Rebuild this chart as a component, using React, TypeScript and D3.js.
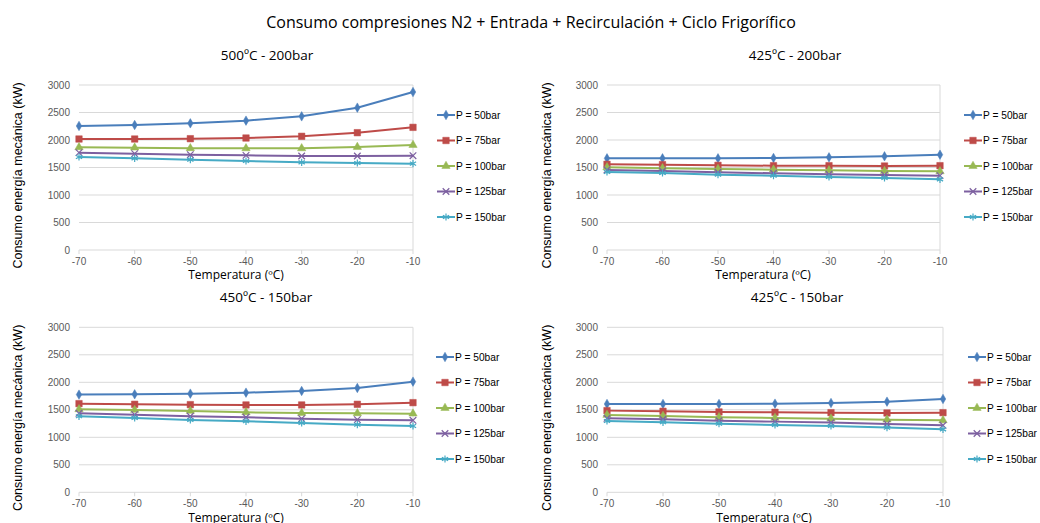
import React from "react";
import * as d3 from "d3";

const temps = [-70, -60, -50, -40, -30, -20, -10];
const seriesNames = ["P = 50bar", "P = 75bar", "P = 100bar", "P = 125bar", "P = 150bar"];
const yTicks = [0, 500, 1000, 1500, 2000, 2500, 3000];
const mainTitle = "Consumo compresiones N2 + Entrada + Recirculación + Ciclo Frigorífico";
const panelTitles = ["500ºC - 200bar", "425ºC - 200bar", "450ºC - 150bar", "425ºC - 150bar"];
const yTitle = "Consumo energía mecánica (kW)";
const xTitle = "Temperatura (ºC)";

// Panel 1: 500ºC - 200bar
const p1_50 = [2255, 2273, 2303, 2352, 2430, 2588, 2872];
const p1_75 = [2018, 2018, 2024, 2036, 2067, 2133, 2230];
const p1_100 = [1867, 1861, 1850, 1848, 1848, 1873, 1909];
const p1_125 = [1770, 1752, 1733, 1721, 1709, 1709, 1715];
const p1_150 = [1691, 1667, 1642, 1618, 1594, 1582, 1570];
// Panel 2: 425ºC - 200bar
const p2_50 = [1667, 1667, 1667, 1673, 1685, 1703, 1733];
const p2_75 = [1558, 1552, 1539, 1533, 1533, 1527, 1533];
const p2_100 = [1503, 1485, 1473, 1461, 1448, 1436, 1430];
const p2_125 = [1455, 1436, 1412, 1394, 1376, 1364, 1352];
const p2_150 = [1418, 1400, 1370, 1352, 1327, 1309, 1285];
// Panel 3: 450ºC - 150bar
const p3_50 = [1776, 1782, 1794, 1812, 1842, 1897, 2012];
const p3_75 = [1612, 1600, 1594, 1588, 1588, 1600, 1630];
const p3_100 = [1509, 1497, 1479, 1455, 1442, 1436, 1430];
const p3_125 = [1436, 1412, 1382, 1364, 1339, 1321, 1309];
const p3_150 = [1382, 1352, 1315, 1291, 1261, 1230, 1206];
// Panel 4: 425ºC - 150bar
const p4_50 = [1606, 1606, 1606, 1612, 1624, 1648, 1697];
const p4_75 = [1485, 1473, 1461, 1455, 1448, 1442, 1448];
const p4_100 = [1406, 1388, 1364, 1352, 1339, 1321, 1309];
const p4_125 = [1345, 1327, 1303, 1285, 1267, 1242, 1218];
const p4_150 = [1297, 1273, 1248, 1224, 1206, 1176, 1145];

const panelData = [
  [p1_50, p1_75, p1_100, p1_125, p1_150],
  [p2_50, p2_75, p2_100, p2_125, p2_150],
  [p3_50, p3_75, p3_100, p3_125, p3_150],
  [p4_50, p4_75, p4_100, p4_125, p4_150],
];

const colors = ["#4A7EBB", "#BE4B48", "#98B954", "#7D60A0", "#46AAC5"];
const symbols = [d3.symbolDiamond, d3.symbolSquare, d3.symbolTriangle, d3.symbolTimes, d3.symbolAsterisk];
const symbolSizes = [26, 42, 30, 30, 36];
const symbolFilled = [true, true, true, false, false];

const layouts = [
  { x0: 79, x1: 413, yTop: 85, yBot: 250, titleX: 267, titleY: 60, yTitleX: 22, xTitleX: 236, xTitleY: 279, legX: 437, legY: 115 },
  { x0: 607, x1: 940, yTop: 85, yBot: 250, titleX: 795, titleY: 60, yTitleX: 551, xTitleX: 763, xTitleY: 279, legX: 964, legY: 115 },
  { x0: 79, x1: 413, yTop: 327.3, yBot: 492.3, titleX: 266, titleY: 302, yTitleX: 22, xTitleX: 236, xTitleY: 522, legX: 436, legY: 357 },
  { x0: 607, x1: 943, yTop: 327.3, yBot: 492.3, titleX: 797, titleY: 302, yTitleX: 551, xTitleX: 764, xTitleY: 522, legX: 968, legY: 357 },
];

const tickFont = "'Liberation Sans', Arial, sans-serif";
const titleFont = "'Open Sans', 'Noto Sans', sans-serif";

function Marker({ i, x, y }: { i: number; x: number; y: number }) {
  const path = d3.symbol().type(symbols[i]).size(symbolSizes[i])() || "";
  return (
    <path
      d={path}
      transform={`translate(${x},${y})`}
      fill={symbolFilled[i] ? colors[i] : "none"}
      stroke={colors[i]}
      strokeWidth={symbolFilled[i] ? 0.5 : 1.2}
    />
  );
}

function Panel({ idx }: { idx: number }) {
  const L = layouts[idx];
  const x = d3.scaleLinear().domain([-70, -10]).range([L.x0, L.x1]);
  const y = d3.scaleLinear().domain([0, 3000]).range([L.yBot, L.yTop]);
  const line = d3
    .line<number>()
    .x((_, i) => x(temps[i]))
    .y((d) => y(d));
  const data = panelData[idx];
  const yMid = (L.yTop + L.yBot) / 2;
  return (
    <g>
      <text x={L.titleX} y={L.titleY} textAnchor="middle" fontFamily={titleFont} fontSize={13.5} fill="#000">
        {panelTitles[idx]}
      </text>
      {yTicks.map((t) => (
        <g key={t}>
          {t > 0 && <line x1={L.x0} x2={L.x1} y1={y(t)} y2={y(t)} stroke="#D9D9D9" strokeWidth={1} />}
          <text x={L.x0 - 9} y={y(t)} dy="0.35em" textAnchor="end" fontFamily={tickFont} fontSize={10} fill="#595959">
            {t}
          </text>
        </g>
      ))}
      <line x1={L.x1} x2={L.x1} y1={L.yTop} y2={L.yBot} stroke="#D9D9D9" strokeWidth={1} />
      <line x1={L.x0} x2={L.x1} y1={L.yBot} y2={L.yBot} stroke="#D9D9D9" strokeWidth={1} />
      {temps.map((t) => (
        <g key={t}>
          <line x1={x(t)} x2={x(t)} y1={L.yBot} y2={L.yBot + 4} stroke="#D9D9D9" strokeWidth={1} />
          <text x={x(t)} y={L.yBot + 15} textAnchor="middle" fontFamily={tickFont} fontSize={10} fill="#595959">
            {t}
          </text>
        </g>
      ))}
      <text
        transform={`translate(${L.yTitleX},${yMid + 8}) rotate(-90)`}
        textAnchor="middle"
        fontFamily={tickFont}
        fontSize={12.5}
        fill="#000"
      >
        {yTitle}
      </text>
      <text x={L.xTitleX} y={L.xTitleY} textAnchor="middle" fontFamily={titleFont} fontSize={12} fill="#000">
        {xTitle}
      </text>
      {data.map((s, i) => (
        <g key={i}>
          <path d={line(s) || ""} fill="none" stroke={colors[i]} strokeWidth={2} />
          {s.map((v, j) => (
            <Marker key={j} i={i} x={x(temps[j])} y={y(v)} />
          ))}
        </g>
      ))}
      {seriesNames.map((n, i) => {
        const ly = L.legY + i * 25.5;
        return (
          <g key={n}>
            <line x1={L.legX} x2={L.legX + 18} y1={ly} y2={ly} stroke={colors[i]} strokeWidth={2} />
            <Marker i={i} x={L.legX + 9} y={ly} />
            <text x={L.legX + 19} y={ly} dy="0.35em" fontFamily={tickFont} fontSize={10.2} fill="#000">
              {n}
            </text>
          </g>
        );
      })}
    </g>
  );
}

export default function App() {
  return (
    <svg
      width={1040}
      height={523}
      style={{ position: "absolute", left: 0, top: 0, background: "#fff" }}
    >
      <rect width={1040} height={523} fill="#fff" />
      <text x={531} y={28} textAnchor="middle" fontFamily={titleFont} fontSize={16} fill="#000">
        {mainTitle}
      </text>
      {[0, 1, 2, 3].map((i) => (
        <Panel key={i} idx={i} />
      ))}
    </svg>
  );
}
